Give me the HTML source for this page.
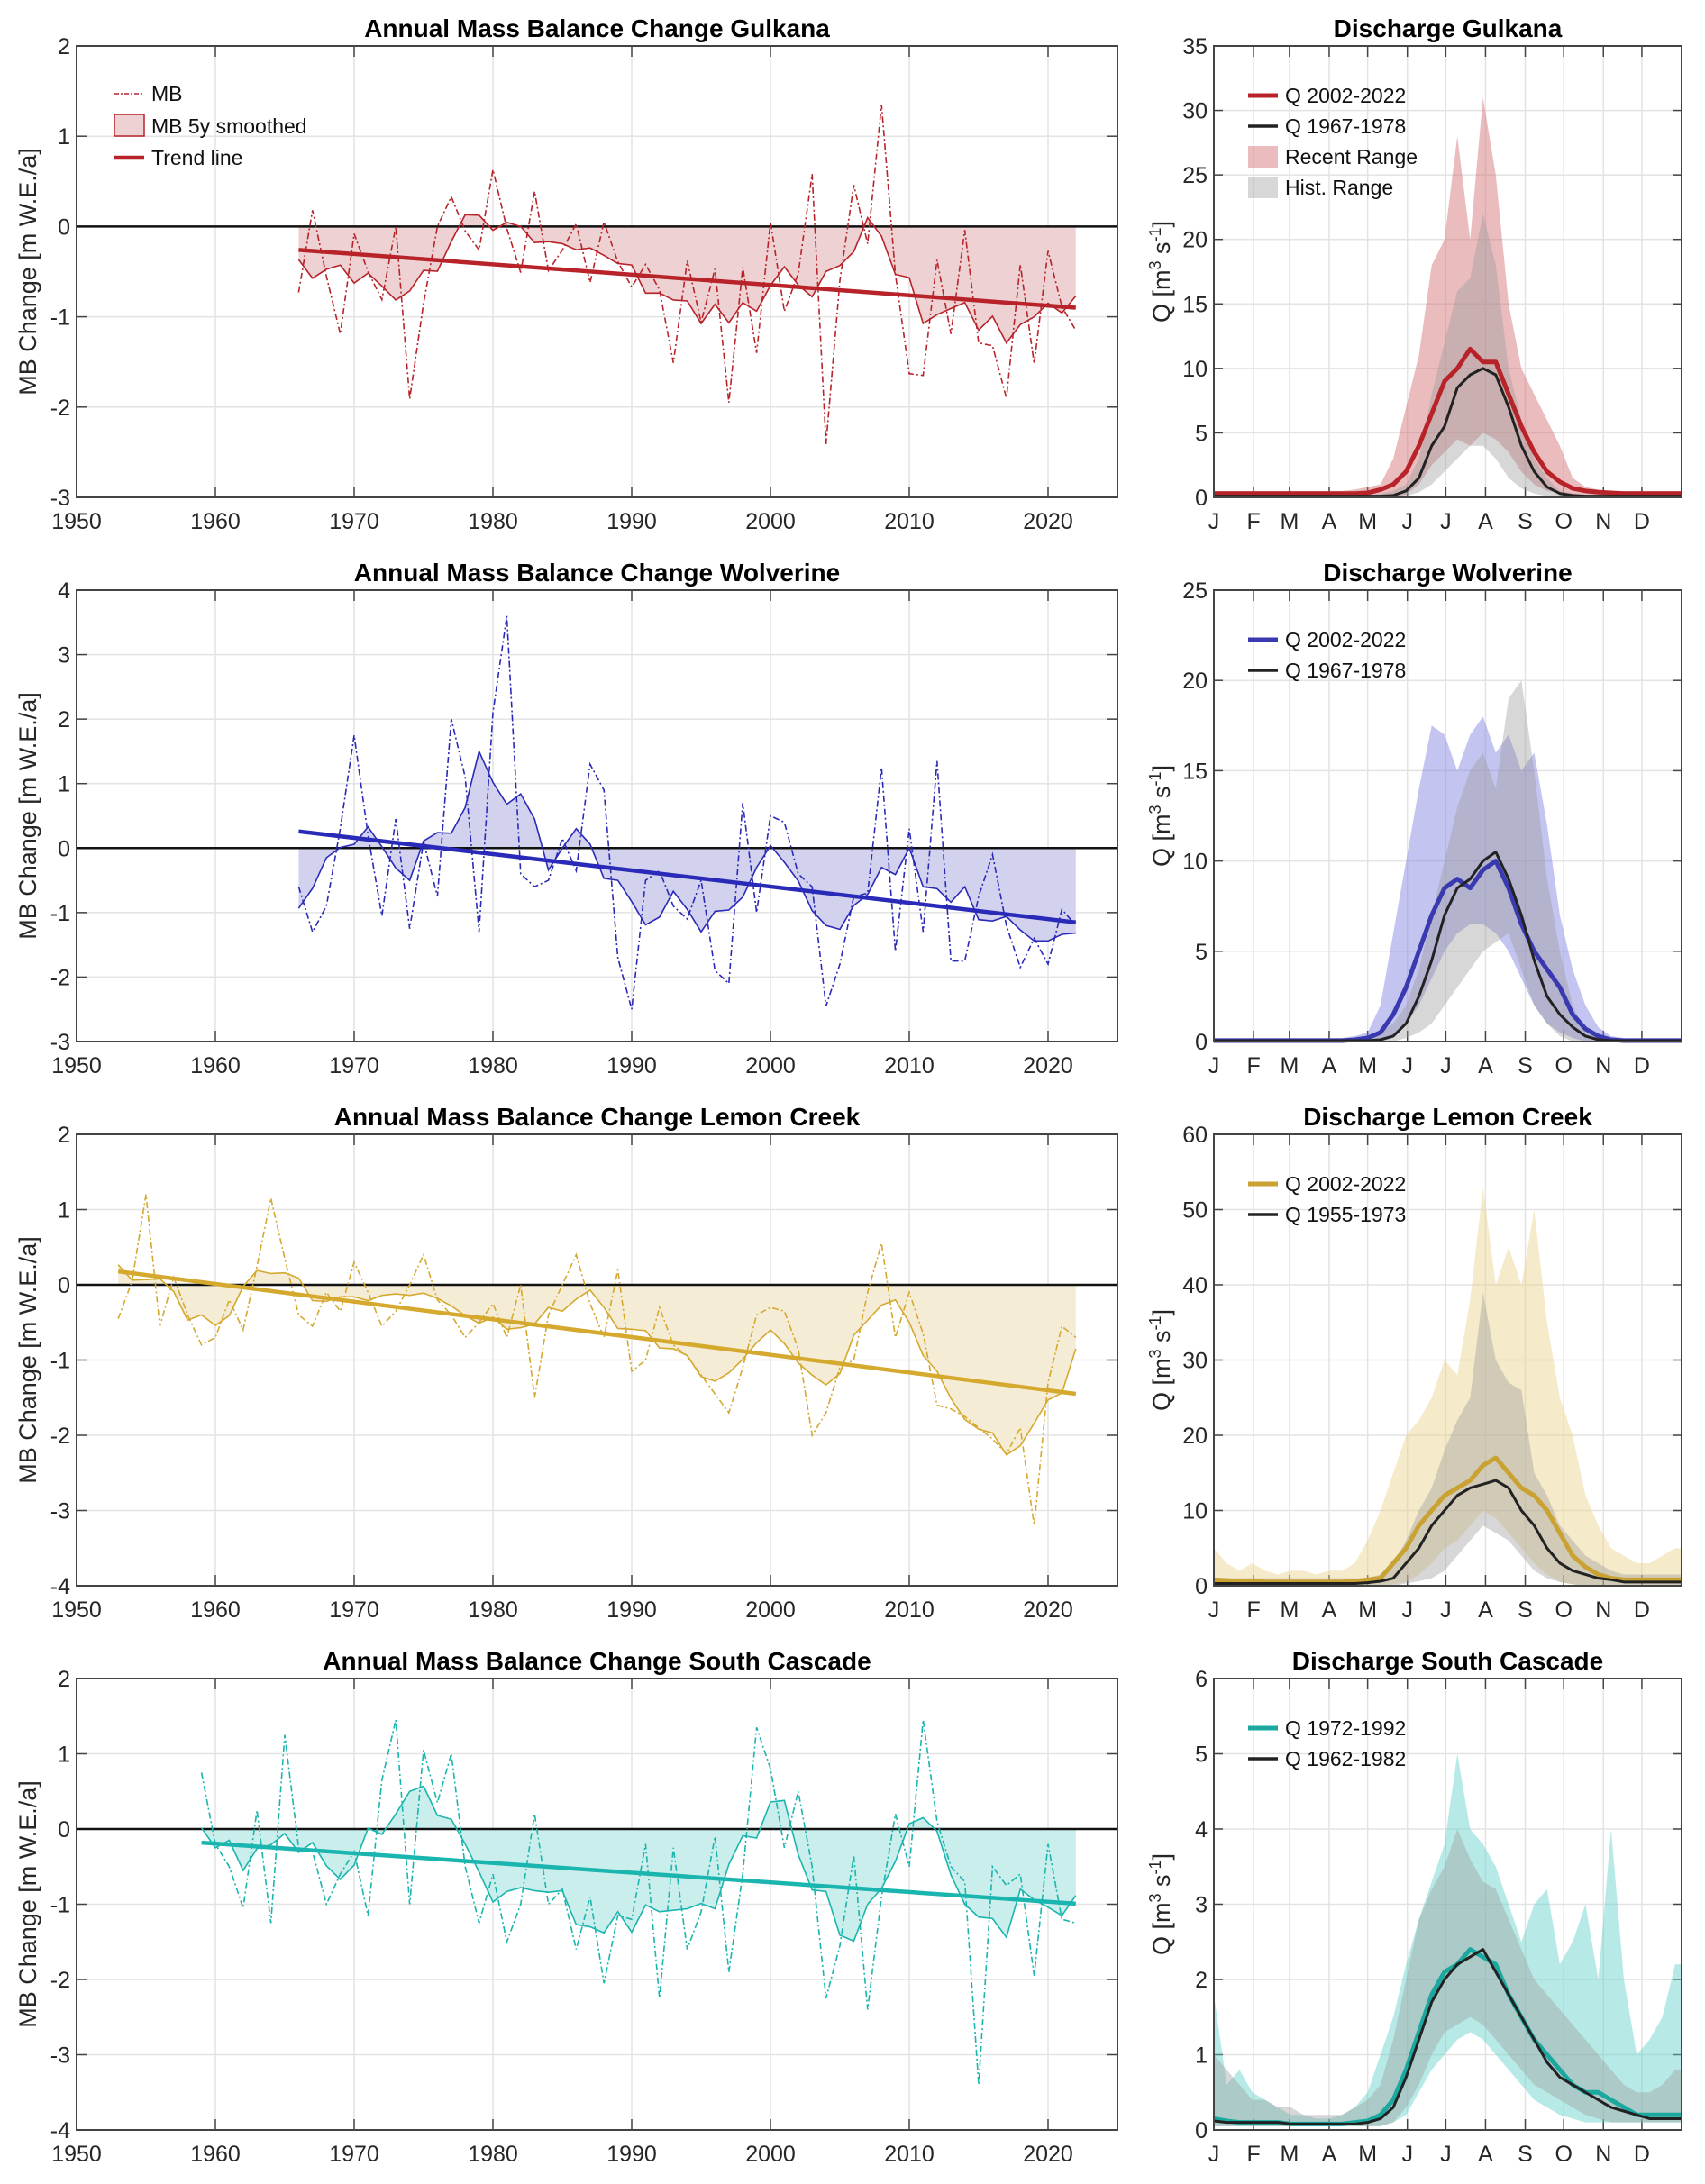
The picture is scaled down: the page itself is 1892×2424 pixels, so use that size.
<!DOCTYPE html>
<html><head><meta charset="utf-8"><style>
html,body{margin:0;padding:0;background:#fff;}
svg{display:block;font-family:"Liberation Sans",Arial,sans-serif;}
</style></head><body>
<svg id="fig" width="1892" height="2424" viewBox="0 0 1892 2424" xmlns="http://www.w3.org/2000/svg"></svg>
<script>
// ---------- Mass balance data ----------
const gulkanaStart = 1966;
const gulkanaMB = [-0.73,0.18,-0.55,-1.19,-0.08,-0.5,-0.81,0.0,-1.91,-0.85,0.0,0.33,-0.05,-0.26,0.63,-0.02,-0.51,0.39,-0.49,-0.26,0.03,-0.62,0.05,-0.39,-0.67,-0.42,-0.7,-1.51,-0.38,-1.06,-0.47,-1.95,-0.45,-1.4,0.05,-0.94,-0.52,0.58,-2.41,-0.6,0.46,-0.19,1.35,-0.53,-1.63,-1.65,-0.37,-1.19,-0.04,-1.29,-1.32,-1.9,-0.42,-1.52,-0.27,-0.89,-1.15];
const wolverineStart = 1966;
const wolverineMB = [-0.6,-1.3,-0.9,0.3,1.75,0.2,-1.05,0.45,-1.25,0.1,-0.75,2.0,1.1,-1.3,2.1,3.6,-0.4,-0.6,-0.5,0.15,-0.35,1.3,0.9,-1.7,-2.5,-0.5,-0.35,-0.9,-1.1,-0.5,-1.9,-2.1,0.7,-1.0,0.5,0.4,-0.4,-0.6,-2.45,-1.8,-0.75,-0.7,1.25,-1.6,0.3,-1.3,1.35,-1.75,-1.75,-0.75,-0.1,-1.2,-1.85,-1.4,-1.8,-0.95,-1.2];
const lemonStart = 1953;
const lemonMB = [-0.45,0.05,1.2,-0.55,0.1,-0.4,-0.8,-0.7,-0.2,-0.6,0.25,1.15,0.35,-0.4,-0.55,-0.1,-0.35,0.3,-0.1,-0.55,-0.35,0.0,0.4,-0.2,-0.4,-0.7,-0.5,-0.25,-0.7,0.0,-1.5,-0.4,0.0,0.4,-0.25,-0.7,0.2,-1.15,-1.0,-0.3,-0.8,-0.95,-1.2,-1.45,-1.7,-1.1,-0.4,-0.3,-0.35,-0.85,-2.0,-1.7,-1.1,-1.0,-0.1,0.55,-0.7,-0.1,-0.65,-1.6,-1.65,-1.75,-1.9,-2.05,-2.25,-1.9,-3.2,-1.3,-0.55,-0.7];
const cascadeStart = 1959;
const cascadeMB = [0.75,-0.2,-0.5,-1.05,0.25,-1.25,1.25,-0.25,-0.3,-1.0,-0.6,-0.3,-1.15,0.65,1.45,-1.0,1.05,0.35,1.0,-0.5,-1.25,-0.6,-1.5,-1.0,0.2,-1.0,-0.8,-1.6,-0.9,-2.05,-1.15,-1.2,-0.2,-2.25,-0.25,-1.6,-1.1,-0.1,-1.9,-0.6,1.35,0.8,-0.25,0.5,-0.5,-2.25,-1.55,-0.35,-2.4,-0.9,0.2,-0.5,1.45,0.1,-0.5,-0.7,-3.4,-0.5,-0.75,-0.6,-1.95,-0.2,-1.2,-1.25];
const yearTicks = [1950,1960,1970,1980,1990,2000,2010,2020];

// ---------- Discharge data (sampled every 10 days, day 1..361) ----------
const qDays = [1,11,21,31,41,51,61,71,81,91,101,111,121,131,141,151,161,171,181,191,201,211,221,231,241,251,261,271,281,291,301,311,321,331,341,351,361];
const monthLabels = ["J","F","M","A","M","J","J","A","S","O","N","D"];
const monthStarts = [1,32,60,91,121,152,182,213,244,274,305,335];

const gulRecent = [0.3,0.3,0.3,0.3,0.3,0.3,0.3,0.3,0.3,0.3,0.3,0.3,0.35,0.6,1,2,4,6.5,9,10,11.5,10.5,10.5,8,5.5,3.5,2,1.2,0.7,0.5,0.4,0.35,0.3,0.3,0.3,0.3,0.3];
const gulHist = [0.1,0.1,0.1,0.1,0.1,0.1,0.1,0.1,0.1,0.1,0.1,0.1,0.1,0.1,0.15,0.5,1.5,4,5.5,8.5,9.5,10,9.5,7,4,2,0.8,0.3,0.15,0.1,0.1,0.1,0.1,0.1,0.1,0.1,0.1];
const gulRecMax = [0.5,0.5,0.5,0.5,0.5,0.5,0.5,0.5,0.5,0.5,0.5,0.6,0.8,1,3,7,11,18,20,28,20,31,25,15,10,8,6,4,1.5,0.8,0.6,0.5,0.5,0.5,0.5,0.5,0.5];
const gulRecMin = [0.1,0.1,0.1,0.1,0.1,0.1,0.1,0.1,0.1,0.1,0.1,0.1,0.1,0.1,0.1,0.2,1,2.5,3.5,4.5,4,5,4.5,3.5,2,1,0.5,0.3,0.2,0.1,0.1,0.1,0.1,0.1,0.1,0.1,0.1];
const gulHistMax = [0.2,0.2,0.2,0.2,0.2,0.2,0.2,0.2,0.2,0.2,0.2,0.2,0.2,0.3,0.5,1,3,8,12,16,17,22,18,10,6,3,1.5,0.5,0.3,0.2,0.2,0.2,0.2,0.2,0.2,0.2,0.2];
const gulHistMin = [0,0,0,0,0,0,0,0,0,0,0,0,0,0,0,0.1,0.4,1,2,3,4,4,3,1.5,0.7,0.3,0.1,0,0,0,0,0,0,0,0,0,0];

const wolRecent = [0.05,0.05,0.05,0.05,0.05,0.05,0.05,0.05,0.05,0.05,0.05,0.1,0.2,0.5,1.5,3,5,7,8.5,9,8.5,9.5,10,8.5,6.5,5,4,3,1.5,0.7,0.3,0.1,0.05,0.05,0.05,0.05,0.05];
const wolHist = [0.05,0.05,0.05,0.05,0.05,0.05,0.05,0.05,0.05,0.05,0.05,0.05,0.05,0.1,0.3,1,2.5,4.5,7,8.5,9,10,10.5,9,7,4.5,2.5,1.5,0.8,0.3,0.1,0.05,0.05,0.05,0.05,0.05,0.05];
const wolRecMax = [0.2,0.2,0.2,0.2,0.2,0.2,0.2,0.2,0.2,0.2,0.2,0.3,0.5,2,6,10,14,17.5,17,15,17,18,16,17,15,16,12,7,4,2,0.8,0.3,0.2,0.2,0.2,0.2,0.2];
const wolRecMin = [0,0,0,0,0,0,0,0,0,0,0,0,0,0,0.2,1,2,3.5,5,6,6.5,6.5,6,5,3.5,2,1,0.5,0.2,0,0,0,0,0,0,0,0];
const wolHistMax = [0.1,0.1,0.1,0.1,0.1,0.1,0.1,0.1,0.1,0.1,0.1,0.1,0.2,0.5,1,2,4,7,10,13,15,16,14,19,20,15,9,5,2,0.5,0.2,0.1,0.1,0.1,0.1,0.1,0.1];
const wolHistMin = [0,0,0,0,0,0,0,0,0,0,0,0,0,0,0,0.2,0.5,1,2,3,4,5,5.5,6,4,2,1,0.3,0,0,0,0,0,0,0,0,0];

const lemRecent = [0.8,0.7,0.6,0.6,0.5,0.5,0.5,0.5,0.5,0.5,0.5,0.6,0.8,1,3,5,8,10,12,13,14,16,17,15,13,12,10,7,4,2.5,1.5,1,0.8,0.8,0.8,0.8,0.8];
const lemHist = [0.3,0.3,0.3,0.3,0.3,0.3,0.3,0.3,0.3,0.3,0.3,0.3,0.4,0.6,1,3,5,8,10,12,13,13.5,14,13,10,8,5,3,2,1.5,1,0.8,0.5,0.5,0.5,0.5,0.5];
const lemRecMax = [5,3,2,3,2,1.5,2,2,1.5,2,2,3,6,10,15,20,22,25,30,28,38,53,40,45,40,50,35,25,20,12,8,5,4,3,3,4,5];
const lemRecMin = [0,0,0,0,0,0,0,0,0,0,0,0,0,0,0.2,0.5,1.5,3,5,6,8,10,9,7,5,3,1.5,0.5,0.2,0,0,0,0,0,0,0,0];
const lemHistMax = [1,1,1,1,1,1,1,1,1,1,1,1,1,1.5,3,6,10,13,18,22,25,39,30,27,26,15,12,8,6,4,3,2,1.5,1.5,1.5,1.5,1.5];
const lemHistMin = [0,0,0,0,0,0,0,0,0,0,0,0,0,0,0,0.3,0.6,1,2,4,6,8,7,6,4,2,1,0.5,0.2,0,0,0,0,0,0,0,0];

const casRecent = [0.15,0.12,0.1,0.1,0.1,0.1,0.08,0.08,0.08,0.08,0.08,0.1,0.12,0.2,0.4,0.8,1.3,1.8,2.1,2.2,2.4,2.3,2.2,1.8,1.5,1.2,1.0,0.8,0.6,0.5,0.5,0.4,0.3,0.2,0.2,0.2,0.2];
const casHist = [0.12,0.1,0.1,0.1,0.1,0.1,0.08,0.08,0.08,0.08,0.08,0.08,0.1,0.15,0.3,0.7,1.2,1.7,2.0,2.2,2.3,2.4,2.1,1.8,1.5,1.2,0.9,0.7,0.6,0.5,0.4,0.3,0.25,0.2,0.15,0.15,0.15];
const casRecMax = [1.8,0.6,0.8,0.5,0.4,0.3,0.2,0.2,0.15,0.15,0.2,0.3,0.5,1,1.5,2.2,2.8,3.3,3.8,5.0,4.0,3.8,3.5,3.0,2.5,3.0,3.2,2.2,2.5,3.0,2.0,4.0,2.0,1.0,1.2,1.5,2.2];
const casRecMin = [0.05,0.05,0.05,0.05,0.05,0.05,0.05,0.05,0.05,0.05,0.05,0.05,0.05,0.05,0.1,0.2,0.5,0.8,1.0,1.2,1.3,1.2,1.0,0.8,0.6,0.4,0.3,0.2,0.15,0.1,0.1,0.1,0.1,0.1,0.1,0.1,0.1];
const casHistMax = [1.0,0.8,0.6,0.4,0.4,0.3,0.3,0.2,0.2,0.2,0.2,0.3,0.4,0.6,1.2,2,2.8,3.2,3.5,4.0,3.6,3.3,3.2,2.8,2.4,2.0,1.8,1.6,1.4,1.2,1.0,0.8,0.6,0.5,0.5,0.6,0.8];
const casHistMin = [0.05,0.05,0.05,0.05,0.05,0.05,0.05,0.05,0.05,0.05,0.05,0.05,0.05,0.05,0.1,0.3,0.6,1.0,1.3,1.4,1.5,1.4,1.2,1.0,0.8,0.6,0.5,0.4,0.3,0.2,0.15,0.1,0.1,0.1,0.1,0.1,0.1];

// ---------- helpers ----------
const NS = "http://www.w3.org/2000/svg";
const svg = document.getElementById("fig");
function mk(tag, attrs, parent){
  const e = document.createElementNS(NS, tag);
  for (const k in attrs) e.setAttribute(k, attrs[k]);
  (parent||svg).appendChild(e);
  return e;
}
function txt(s, attrs, parent){ const e = mk("text", attrs, parent); e.textContent = s; return e; }

const LX0 = 85, LX1 = 1240, RX0 = 1347, RX1 = 1866;
const rowTops = [51, 655, 1259, 1863];
const PH = 501;

function smooth(arr){
  const out = [];
  for (let i=0;i<arr.length;i++){
    let s=0,n=0;
    for (let j=i-2;j<=i+2;j++){ if (j>=0 && j<arr.length){ s+=arr[j]; n++; } }
    out.push(s/n);
  }
  return out;
}
function trend(years, vals){
  const n=years.length; let mx=0,my=0;
  for (let i=0;i<n;i++){mx+=years[i];my+=vals[i];} mx/=n; my/=n;
  let sxy=0,sxx=0;
  for (let i=0;i<n;i++){sxy+=(years[i]-mx)*(vals[i]-my); sxx+=(years[i]-mx)**2;}
  const b=sxy/sxx; return [my+b*(years[0]-mx), my+b*(years[n-1]-mx)];
}

function mbPanel(idx, name, start, vals, ymin, ymax, color, fill, legend){
  const top = rowTops[idx], bot = top+PH;
  const g = mk("g", {});
  
  
  const xs = y => LX0 + (y-1950)/75*(LX1-LX0);
  const ys = v => bot - (v-ymin)/(ymax-ymin)*PH;
  // grid
  for (const t of yearTicks){
    if (t>1950) mk("line",{x1:xs(t),x2:xs(t),y1:top,y2:bot,stroke:"#e3e3e3","stroke-width":1.5},g);
    const tl = txt(String(t),{x:xs(t),y:bot+35,"font-size":25,"text-anchor":"middle",fill:"#262626"},g);
    
    
    mk("line",{x1:xs(t),x2:xs(t),y1:top,y2:top+12,stroke:"#444","stroke-width":1.5},g);
    mk("line",{x1:xs(t),x2:xs(t),y1:bot,y2:bot-12,stroke:"#444","stroke-width":1.5},g);
  }
  for (let v=ymin; v<=ymax; v++){
    if (v>ymin && v<ymax) mk("line",{x1:LX0,x2:LX1,y1:ys(v),y2:ys(v),stroke:"#e3e3e3","stroke-width":1.5},g);
    const tl = txt(String(v),{x:LX0-7,y:ys(v)+9,"font-size":25,"text-anchor":"end",fill:"#262626"},g);
    
    
    mk("line",{x1:LX0,x2:LX0+12,y1:ys(v),y2:ys(v),stroke:"#444","stroke-width":1.5},g);
    mk("line",{x1:LX1,x2:LX1-12,y1:ys(v),y2:ys(v),stroke:"#444","stroke-width":1.5},g);
  }
  const years = vals.map((v,i)=>start+i);
  const sm = smooth(vals);
  // fill
  let d = "M"+xs(years[0])+","+ys(0);
  years.forEach((y,i)=>{ d += " L"+xs(y)+","+ys(sm[i]); });
  d += " L"+xs(years[years.length-1])+","+ys(0)+" Z";
  const f = mk("path",{d:d,fill:fill,stroke:"none"},g);
  
  
  // zero line
  const z = mk("line",{x1:LX0,x2:LX1,y1:ys(0),y2:ys(0),stroke:"#111","stroke-width":2.5},g);
  
  
  // smoothed line
  const sl = mk("polyline",{points:years.map((y,i)=>xs(y)+","+ys(sm[i])).join(" "),fill:"none",stroke:color,"stroke-width":1.6},g);
  
  
  // MB dash-dot
  const ml = mk("polyline",{points:years.map((y,i)=>xs(y)+","+ys(vals[i])).join(" "),fill:"none",stroke:color,"stroke-width":1.6,"stroke-dasharray":"7,3,2,3"},g);
  
  
  // trend
  const tr = trend(years, vals);
  const tl = mk("line",{x1:xs(years[0]),y1:ys(tr[0]),x2:xs(years[years.length-1]),y2:ys(tr[1]),stroke:color,"stroke-width":4.5},g);
  
  
  // box
  mk("rect",{x:LX0,y:top,width:LX1-LX0,height:PH,fill:"none",stroke:"#444","stroke-width":2},g);
  // title
  const t = txt("Annual Mass Balance Change "+name,{x:(LX0+LX1)/2,y:top-10,"font-size":28,"font-weight":"bold","text-anchor":"middle",fill:"#000"},g);
  
  
  const yl = txt("MB Change [m W.E./a]",{x:0,y:0,"font-size":27,"text-anchor":"middle",fill:"#262626",transform:"translate(40,"+(top+PH/2)+") rotate(-90)"},g);
  
  
  if (legend){
    const lg = mk("g",{},g);
    
    
    mk("line",{x1:127,x2:160,y1:104,y2:104,stroke:color,"stroke-width":1.6,"stroke-dasharray":"5,2,2,2"},lg);
    txt("MB",{x:168,y:112,"font-size":23,fill:"#111"},lg);
    mk("rect",{x:127,y:127,width:33,height:24,fill:fill,stroke:color,"stroke-width":1.5},lg);
    txt("MB 5y smoothed",{x:168,y:148,"font-size":23,fill:"#111"},lg);
    mk("line",{x1:127,x2:160,y1:175,y2:175,stroke:color,"stroke-width":4.5},lg);
    txt("Trend line",{x:168,y:183,"font-size":23,fill:"#111"},lg);
  }
}

function qPanel(idx, name, ymax, ystep, recent, hist, rmax, rmin, hmax, hmin, color, rangeFill, labels, fullLegend){
  const top = rowTops[idx], bot = top+PH;
  const g = mk("g",{});
  
  
  const xs = d => RX0 + (d-1)/365*(RX1-RX0);
  const ys = v => bot - v/ymax*PH;
  for (let i=0;i<monthStarts.length;i++){
    const x = xs(monthStarts[i]);
    if (i>0){
      mk("line",{x1:x,x2:x,y1:top,y2:bot,stroke:"#e3e3e3","stroke-width":1.5},g);
      mk("line",{x1:x,x2:x,y1:top,y2:top+12,stroke:"#444","stroke-width":1.5},g);
      mk("line",{x1:x,x2:x,y1:bot,y2:bot-12,stroke:"#444","stroke-width":1.5},g);
    }
    const ml = txt(monthLabels[i],{x:x,y:bot+35,"font-size":25,"text-anchor":"middle",fill:"#262626"},g);
    
    
  }
  for (let v=0; v<=ymax+1e-9; v+=ystep){
    if (v>0 && v<ymax) mk("line",{x1:RX0,x2:RX1,y1:ys(v),y2:ys(v),stroke:"#e3e3e3","stroke-width":1.5},g);
    const tl = txt(String(Math.round(v*10)/10),{x:RX0-7,y:ys(v)+9,"font-size":25,"text-anchor":"end",fill:"#262626"},g);
    
    
    mk("line",{x1:RX0,x2:RX0+10,y1:ys(v),y2:ys(v),stroke:"#444","stroke-width":1.5},g);
    mk("line",{x1:RX1,x2:RX1-10,y1:ys(v),y2:ys(v),stroke:"#444","stroke-width":1.5},g);
  }
  function band(hi, lo, fillc, op, nm){
    let d = "M"+xs(qDays[0])+","+ys(hi[0]);
    for (let i=1;i<qDays.length;i++) d += " L"+xs(qDays[i])+","+ys(hi[i]);
    d += " L"+xs(366)+","+ys(hi[hi.length-1])+" L"+xs(366)+","+ys(lo[lo.length-1]);
    for (let i=qDays.length-1;i>=0;i--) d += " L"+xs(qDays[i])+","+ys(lo[i]);
    d += " Z";
    const p = mk("path",{d:d,fill:fillc,"fill-opacity":op,stroke:"none"},g);
    
    
  }
  band(rmax, rmin, rangeFill, 0.45, 'recent-range-band');
  band(hmax, hmin, "#9a9a9a", 0.4, 'historic-range-band');
  function line(arr, c, w, nm){
    const pts = qDays.map((d,i)=>xs(d)+","+ys(arr[i]));
    pts.push(xs(366)+","+ys(arr[arr.length-1]));
    const p = mk("polyline",{points:pts.join(" "),fill:"none",stroke:c,"stroke-width":w,"stroke-linejoin":"round"},g);
    
    
  }
  line(recent, color, 5, 'recent-mean-line');
  line(hist, "#222", 3, 'historic-mean-line');
  mk("rect",{x:RX0,y:top,width:RX1-RX0,height:PH,fill:"none",stroke:"#444","stroke-width":2},g);
  const t = txt("Discharge "+name,{x:(RX0+RX1)/2,y:top-10,"font-size":28,"font-weight":"bold","text-anchor":"middle",fill:"#000"},g);
  
  
  const yl = mk("text",{x:0,y:0,"font-size":27,"text-anchor":"middle",fill:"#262626",transform:"translate(1298,"+(top+PH/2)+") rotate(-90)"},g);
  
  
  yl.innerHTML = 'Q [m<tspan dy="-10" font-size="18">3</tspan><tspan dy="10"> s</tspan><tspan dy="-10" font-size="18">-1</tspan><tspan dy="10">]</tspan>';
  const lg = mk("g",{},g);
  
  
  const ly = top+55;
  mk("line",{x1:1385,x2:1418,y1:ly,y2:ly,stroke:color,"stroke-width":5},lg);
  txt(labels[0],{x:1426,y:ly+8,"font-size":23,fill:"#111"},lg);
  mk("line",{x1:1385,x2:1418,y1:ly+34,y2:ly+34,stroke:"#222","stroke-width":3.5},lg);
  txt(labels[1],{x:1426,y:ly+42,"font-size":23,fill:"#111"},lg);
  if (fullLegend){
    mk("rect",{x:1385,y:ly+56,width:33,height:24,fill:rangeFill,"fill-opacity":0.45},lg);
    txt("Recent Range",{x:1426,y:ly+76,"font-size":23,fill:"#111"},lg);
    mk("rect",{x:1385,y:ly+90,width:33,height:24,fill:"#9a9a9a","fill-opacity":0.4},lg);
    txt("Hist. Range",{x:1426,y:ly+110,"font-size":23,fill:"#111"},lg);
  }
}

mbPanel(0,"Gulkana",gulkanaStart,gulkanaMB,-3,2,"#b8232a","#eed2d3",true);
mbPanel(1,"Wolverine",wolverineStart,wolverineMB,-3,4,"#2a2ab8","#d2d2ef",false);
mbPanel(2,"Lemon Creek",lemonStart,lemonMB,-4,2,"#d4a92e","#f5ecd6",false);
mbPanel(3,"South Cascade",cascadeStart,cascadeMB,-4,2,"#19b5ae","#c9eeec",false);

qPanel(0,"Gulkana",35,5,gulRecent,gulHist,gulRecMax,gulRecMin,gulHistMax,gulHistMin,"#b8232a","#d06a6e",["Q 2002-2022","Q 1967-1978"],true);
qPanel(1,"Wolverine",25,5,wolRecent,wolHist,wolRecMax,wolRecMin,wolHistMax,wolHistMin,"#3a3ab0","#7d7de0",["Q 2002-2022","Q 1967-1978"],false);
qPanel(2,"Lemon Creek",60,10,lemRecent,lemHist,lemRecMax,lemRecMin,lemHistMax,lemHistMin,"#c9a232","#e8d08a",["Q 2002-2022","Q 1955-1973"],false);
qPanel(3,"South Cascade",6,1,casRecent,casHist,casRecMax,casRecMin,casHistMax,casHistMin,"#1aa89f","#5fd0c8",["Q 1972-1992","Q 1962-1982"],false);
</script>
</body></html>
